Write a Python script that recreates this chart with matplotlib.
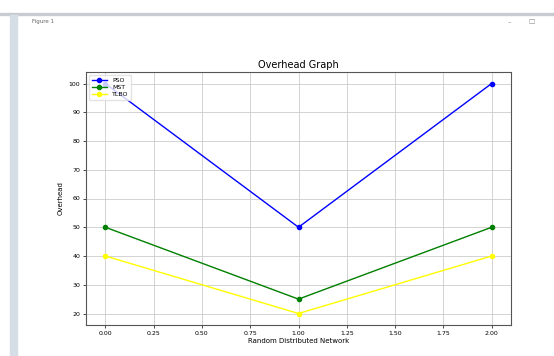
import matplotlib
matplotlib.use("Agg")
import matplotlib.pyplot as plt
from matplotlib.patches import Rectangle

x = [0, 1, 2]
pso = [100, 50, 100]
mst = [50, 25, 50]
tlbo = [40, 20, 40]
series_names = ["PSO", "MST", "TLBO"]
series_colors = ["blue", "green", "yellow"]

W, H = 554, 356
fig = plt.figure(figsize=(W / 100, H / 100), dpi=100)
fig.patch.set_facecolor("white")

# window chrome
fig.patches.append(Rectangle((0, 1 - 15 / H), 1, 2 / H, transform=fig.transFigure,
                             color="#c8ccd2", zorder=0))
fig.patches.append(Rectangle((10 / W, 0), 7 / W, 1 - 15 / H, transform=fig.transFigure,
                             color="#d5dde6", zorder=0))
fig.text(32 / W, 1 - 23 / H, "Figure 1", fontsize=4, color="#666666")
fig.text(508 / W, 1 - 24 / H, "–", fontsize=5, color="#888888")
fig.text(528 / W, 1 - 24 / H, "☐", fontsize=5, color="#888888")

ax = fig.add_axes([86 / W, 1 - 325 / H, (511 - 86) / W, (325 - 72) / H])
for vals, name, c in zip([pso, mst, tlbo], series_names, series_colors):
    ax.plot(x, vals, marker="o", color=c, label=name, linewidth=1.0, markersize=3)

ax.set_title("Overhead Graph", fontsize=7, pad=3)
ax.set_xlabel("Random Distributed Network", fontsize=5, labelpad=2)
ax.set_ylabel("Overhead", fontsize=5, labelpad=4)
ax.tick_params(labelsize=4.5, length=2, width=0.5, pad=2)
ax.grid(True, color="#cccccc", linewidth=0.6)
for s in ax.spines.values():
    s.set_color("#555555")
    s.set_linewidth(0.8)
ax.legend(loc="upper left", fontsize=4.5, frameon=True, handlelength=2.5,
          borderpad=0.4, labelspacing=0.3, edgecolor="#dddddd")

fig.savefig("out.png", dpi=100)
